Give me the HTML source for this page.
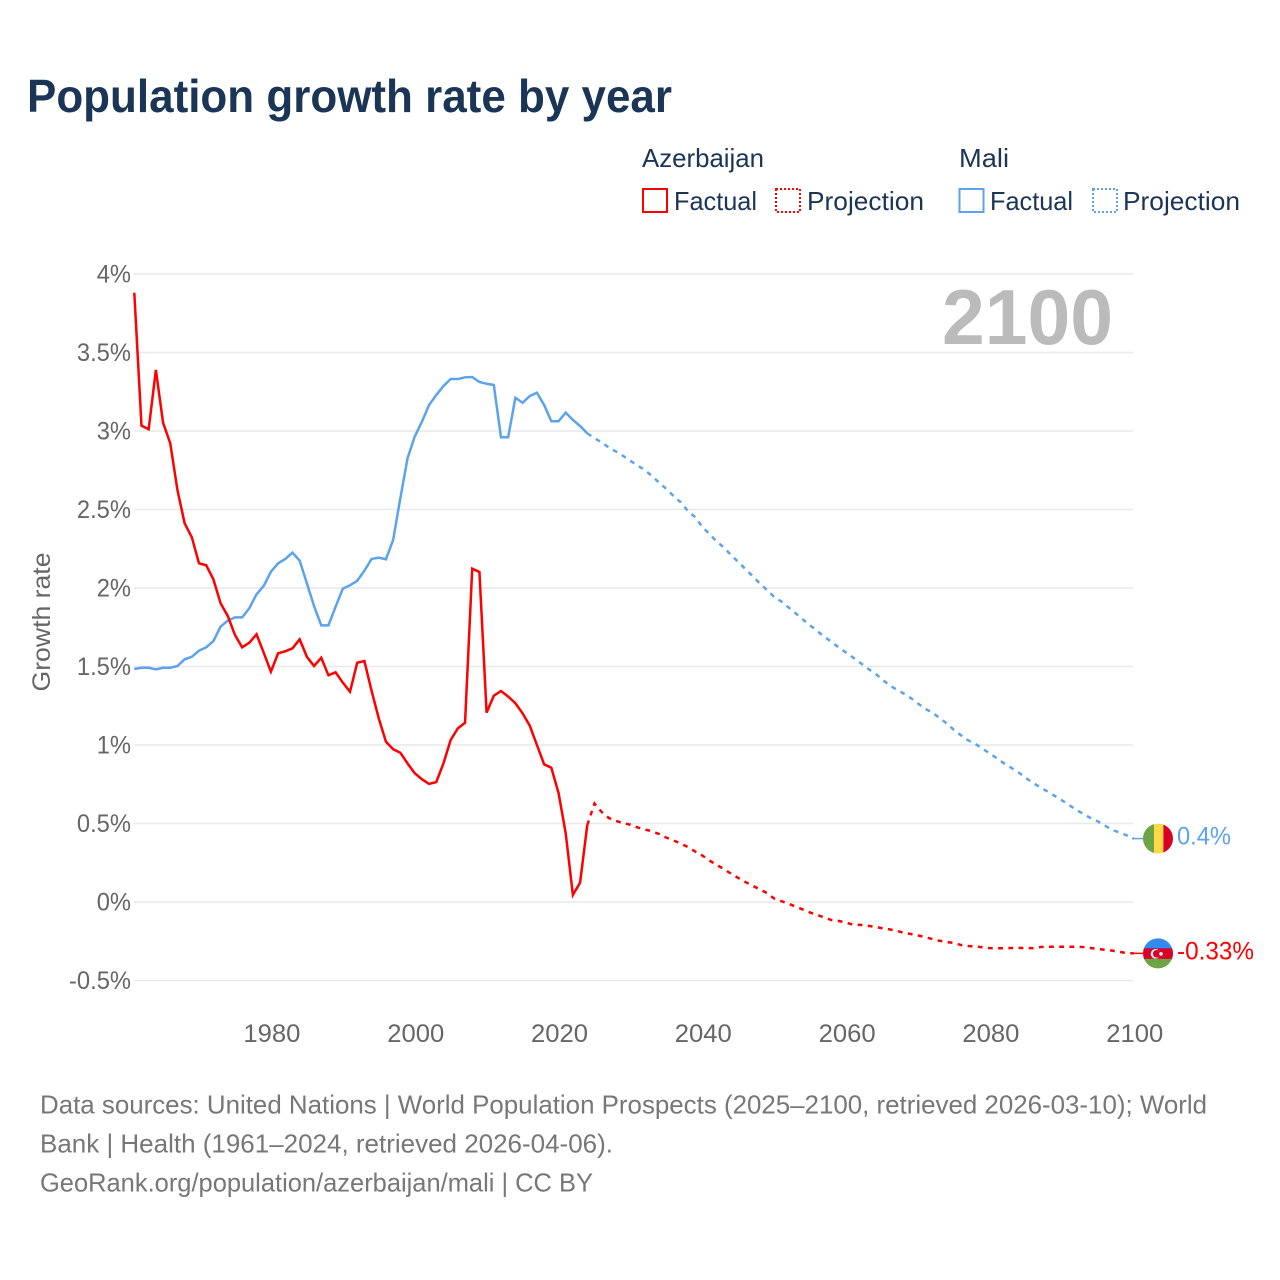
<!DOCTYPE html>
<html lang="en">
<head>
<meta charset="utf-8">
<title>Population growth rate by year</title>
<style>
html,body{margin:0;padding:0;background:#fff;}
svg{display:block;font-family:"Liberation Sans",Arial,sans-serif;}
</style>
</head>
<body>
<svg id="chart" xmlns="http://www.w3.org/2000/svg" width="1280" height="1280" viewBox="0 0 1280 1280">
  <defs>
    <clipPath id="flag-clip"><circle cx="0" cy="0" r="15"></circle></clipPath>
  </defs>
  <rect x="0" y="0" width="1280" height="1280" fill="#ffffff"></rect>

  <text x="27" y="112" font-size="46" font-weight="700" fill="#1a3556" textLength="645" lengthAdjust="spacingAndGlyphs">Population growth rate by year</text>

  <g font-size="26" fill="#1a3556">
    <text x="642" y="167" textLength="122" lengthAdjust="spacingAndGlyphs">Azerbaijan</text>
    <text x="959" y="167" textLength="50" lengthAdjust="spacingAndGlyphs">Mali</text>
    <rect x="643" y="189" width="24" height="23" fill="none" stroke="#ff0000" stroke-width="2"></rect>
    <text x="674" y="210" textLength="83" lengthAdjust="spacingAndGlyphs">Factual</text>
    <rect x="776" y="189" width="24" height="23" fill="none" stroke="#ff0000" stroke-width="2" stroke-dasharray="2 2"></rect>
    <text x="807" y="210" textLength="117" lengthAdjust="spacingAndGlyphs">Projection</text>
    <rect x="959.5" y="189" width="24" height="23" fill="none" stroke="#5ba3ec" stroke-width="2"></rect>
    <text x="990" y="210" textLength="83" lengthAdjust="spacingAndGlyphs">Factual</text>
    <rect x="1093" y="189" width="24" height="23" fill="none" stroke="#5ba3ec" stroke-width="2" stroke-dasharray="2 2"></rect>
    <text x="1123" y="210" textLength="117" lengthAdjust="spacingAndGlyphs">Projection</text>
  </g>

  <g id="grid"></g>
  <g id="y-ticks"></g>
  <g id="x-ticks"></g>

  <text transform="translate(50,622) rotate(-90)" text-anchor="middle" font-size="25" fill="#666666" textLength="139" lengthAdjust="spacingAndGlyphs">Growth rate</text>

  <text x="942" y="344" font-size="78" font-weight="700" fill="#bbbbbb" textLength="171" lengthAdjust="spacingAndGlyphs">2100</text>

  <g id="series"></g>
  <g id="end-markers"></g>

  <g font-size="26" fill="#777777">
    <text x="40" y="1113.5" textLength="1167" lengthAdjust="spacingAndGlyphs">Data sources: United Nations | World Population Prospects (2025–2100, retrieved 2026-03-10); World</text>
    <text x="40" y="1152.5" textLength="573" lengthAdjust="spacingAndGlyphs">Bank | Health (1961–2024, retrieved 2026-04-06).</text>
    <text x="40" y="1191.5" textLength="553" lengthAdjust="spacingAndGlyphs">GeoRank.org/population/azerbaijan/mali | CC BY</text>
  </g>
</svg>

<script>
const yTickValues = [4, 3.5, 3, 2.5, 2, 1.5, 1, 0.5, 0, -0.5];
const xTickYears = [1980, 2000, 2020, 2040, 2060, 2080, 2100];
const factualStartYear = 1961;
const projectionStartYear = 2025;

const azerbaijanFactual = [
  3.881,3.034,3.011,3.389,3.053,2.922,2.624,2.412,2.323,2.157,
  2.145,2.055,1.903,1.822,1.701,1.622,1.652,1.705,1.588,1.467,
  1.584,1.597,1.616,1.673,1.562,1.503,1.556,1.444,1.463,1.397,
  1.339,1.524,1.535,1.345,1.170,1.021,0.973,0.951,0.883,0.820,
  0.782,0.752,0.764,0.883,1.032,1.106,1.142,2.123,2.102,1.206,
  1.314,1.344,1.308,1.266,1.202,1.123,1.000,0.877,0.855,0.696,
  0.438,0.045,0.123,0.490
];
const azerbaijanProjection = [
  0.627,0.573,0.535,0.516,0.503,0.492,0.475,0.462,0.450,0.433,
  0.410,0.392,0.373,0.350,0.322,0.296,0.264,0.236,0.210,0.180,
  0.153,0.127,0.104,0.080,0.057,0.022,0.005,-0.011,-0.030,-0.048,
  -0.067,-0.083,-0.099,-0.116,-0.121,-0.131,-0.145,-0.146,-0.151,-0.158,
  -0.167,-0.174,-0.183,-0.196,-0.204,-0.213,-0.224,-0.236,-0.247,-0.255,
  -0.261,-0.274,-0.280,-0.284,-0.288,-0.294,-0.295,-0.294,-0.293,-0.292,
  -0.293,-0.294,-0.287,-0.285,-0.285,-0.285,-0.285,-0.285,-0.287,-0.293,
  -0.299,-0.304,-0.310,-0.318,-0.325,-0.327
];
const maliFactual = [
  1.484,1.492,1.492,1.482,1.492,1.492,1.503,1.546,1.562,1.601,
  1.622,1.662,1.754,1.792,1.813,1.813,1.871,1.960,2.013,2.104,
  2.157,2.185,2.225,2.174,2.030,1.885,1.762,1.762,1.881,1.996,
  2.017,2.046,2.110,2.185,2.193,2.183,2.306,2.571,2.826,2.964,
  3.059,3.166,3.229,3.287,3.331,3.331,3.342,3.344,3.312,3.301,
  3.293,2.960,2.960,3.212,3.180,3.223,3.244,3.166,3.062,3.062,
  3.117,3.070,3.032,2.985
];
const maliProjection = [
  2.955,2.927,2.895,2.869,2.841,2.810,2.780,2.752,2.713,2.671,
  2.631,2.586,2.546,2.490,2.452,2.389,2.344,2.296,2.258,2.210,
  2.166,2.121,2.076,2.029,1.987,1.943,1.914,1.876,1.838,1.799,
  1.761,1.726,1.688,1.656,1.620,1.589,1.556,1.522,1.487,1.457,
  1.418,1.382,1.354,1.328,1.299,1.264,1.231,1.206,1.172,1.137,
  1.096,1.061,1.029,1.006,0.976,0.946,0.914,0.882,0.854,0.825,
  0.790,0.758,0.731,0.704,0.676,0.648,0.618,0.587,0.561,0.535,
  0.514,0.486,0.459,0.443,0.425,0.404
];
const maliEndLabel = "0.4%";
const azerbaijanEndLabel = "-0.33%";

const SVG_NS = "http://www.w3.org/2000/svg";
const RED = "#ff0000";
const BLUE = "#5ba3ec";
const LINE_WIDTH = 2.5;
const DASH_PATTERN = "4.8 5.4";

function xScale(year) { return 134.3 + (year - 1961) * 7.19; }
function yScale(value) { return 902 - value * 157; }
function make(tag, attrs, parent) {
  const el = document.createElementNS(SVG_NS, tag);
  for (const k in attrs) el.setAttribute(k, attrs[k]);
  parent.appendChild(el);
  return el;
}
function linePath(startYear, values, prefix) {
  let d = prefix || "";
  values.forEach(function (v, i) {
    d += (d ? "L" : "M") + xScale(startYear + i).toFixed(2) + " " + yScale(v).toFixed(2);
  });
  return d;
}

const gridGroup = document.getElementById("grid");
const yTickGroup = document.getElementById("y-ticks");
yTickValues.forEach(function (v) {
  const line = make("line", {x1: 134, x2: 1133, y1: yScale(v), y2: yScale(v), stroke: "#e9e9e9", "stroke-width": 1.5}, gridGroup);
  
  
  const label = make("text", {x: 131, y: yScale(v) + 8.5, "text-anchor": "end", "font-size": 25, fill: "#666666"}, yTickGroup);
  
  
  label.textContent = v + "%";
  const narrowed = label.getComputedTextLength() * 0.95;
  label.setAttribute("textLength", narrowed.toFixed(1));
  label.setAttribute("lengthAdjust", "spacingAndGlyphs");
});

const xTickGroup = document.getElementById("x-ticks");
xTickYears.forEach(function (year) {
  const label = make("text", {x: xScale(year) + 1, y: 1042, "text-anchor": "middle", "font-size": 25, fill: "#666666", textLength: 57, lengthAdjust: "spacingAndGlyphs"}, xTickGroup);
  
  
  label.textContent = year;
});

const seriesGroup = document.getElementById("series");

const maliFactualLine = make("path", {d: linePath(factualStartYear, maliFactual), fill: "none", stroke: BLUE, "stroke-width": LINE_WIDTH, "stroke-linejoin": "miter"}, seriesGroup);



const maliJoin = "M" + xScale(projectionStartYear - 1).toFixed(2) + " " + yScale(maliFactual[maliFactual.length - 1]).toFixed(2);
const maliProjectionLine = make("path", {d: linePath(projectionStartYear, maliProjection, maliJoin), fill: "none", stroke: BLUE, "stroke-width": LINE_WIDTH, "stroke-dasharray": DASH_PATTERN}, seriesGroup);



const azFactualLine = make("path", {d: linePath(factualStartYear, azerbaijanFactual), fill: "none", stroke: RED, "stroke-width": LINE_WIDTH, "stroke-linejoin": "miter"}, seriesGroup);



const azJoin = "M" + xScale(projectionStartYear - 1).toFixed(2) + " " + yScale(azerbaijanFactual[azerbaijanFactual.length - 1]).toFixed(2);
const azProjectionLine = make("path", {d: linePath(projectionStartYear, azerbaijanProjection, azJoin), fill: "none", stroke: RED, "stroke-width": LINE_WIDTH, "stroke-dasharray": DASH_PATTERN}, seriesGroup);



const markers = document.getElementById("end-markers");
const maliEndY = yScale(maliProjection[maliProjection.length - 1]);
const azEndY = yScale(azerbaijanProjection[azerbaijanProjection.length - 1]);

const maliStub = make("line", {x1: 1132, x2: 1145, y1: maliEndY, y2: maliEndY, stroke: BLUE, "stroke-width": 1.5}, markers);


const azStub = make("line", {x1: 1132, x2: 1145, y1: azEndY, y2: azEndY, stroke: RED, "stroke-width": 1.5}, markers);



const maliFlag = make("g", {transform: "translate(1158," + maliEndY + ")", "clip-path": "url(#flag-clip)"}, markers);


make("rect", {x: -15, y: -15, width: 11, height: 30, fill: "#6da544"}, maliFlag);
make("rect", {x: -4, y: -15, width: 9.4, height: 30, fill: "#ffda44"}, maliFlag);
make("rect", {x: 5.4, y: -15, width: 10, height: 30, fill: "#d80027"}, maliFlag);

const azFlag = make("g", {transform: "translate(1158," + azEndY + ")", "clip-path": "url(#flag-clip)"}, markers);


make("rect", {x: -15, y: -15.5, width: 30, height: 11, fill: "#338af3"}, azFlag);
make("rect", {x: -15, y: -5, width: 30, height: 11, fill: "#d80027"}, azFlag);
make("rect", {x: -15, y: 5.5, width: 30, height: 10, fill: "#6da544"}, azFlag);
make("circle", {cx: -2.5, cy: 0.5, r: 4.8, fill: "#f0f0f0"}, azFlag);
make("circle", {cx: -1.2, cy: 0.5, r: 3.8, fill: "#d80027"}, azFlag);
make("circle", {cx: 3, cy: 0.5, r: 1.8, fill: "#f0f0f0"}, azFlag);

const maliValue = make("text", {x: 1177, y: maliEndY + 6, "font-size": 25, fill: BLUE, textLength: 54, lengthAdjust: "spacingAndGlyphs"}, markers);


maliValue.textContent = maliEndLabel;

const azValue = make("text", {x: 1177, y: azEndY + 6, "font-size": 25, fill: RED, textLength: 77, lengthAdjust: "spacingAndGlyphs"}, markers);


azValue.textContent = azerbaijanEndLabel;
</script>
</body>
</html>
